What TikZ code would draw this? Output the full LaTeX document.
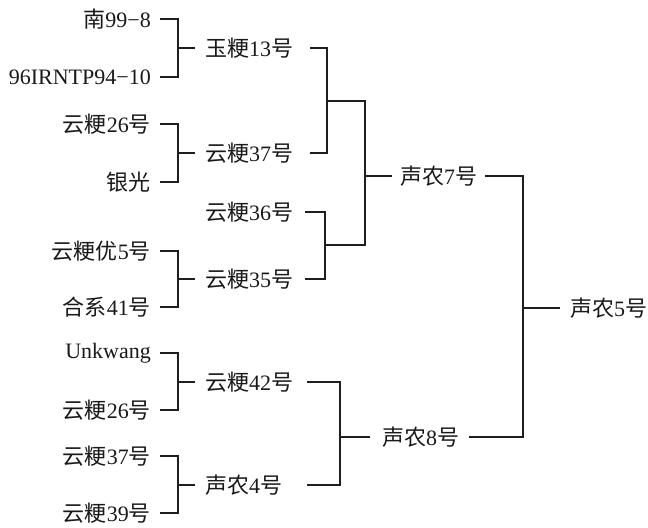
\documentclass[tikz,border=0pt]{standalone}
\usepackage{fontspec}
\setmainfont{Liberation Serif}
\newfontfamily\cjk{Noto Sans CJK SC}
\newcommand{\zh}[1]{{\cjk #1}}
\begin{document}
\begin{tikzpicture}[x=1bp,y=-1bp,
  lbl/.style={inner sep=0pt, font=\fontsize{22bp}{26bp}\selectfont, text=black!90},
  leaf/.style={lbl, anchor=east},
  mid/.style={lbl, anchor=west, text width=90bp, align=left},
  top/.style={lbl, anchor=west},
  link/.style={draw=black!88, line width=2.1bp}]
\useasboundingbox (0,0) rectangle (648,528);
% leaves
\node[leaf] (l1) at (151,19) {\zh{南}99−8};
\node[leaf] (l2) at (151,77) {96IRNTP94−10};
\node[leaf] (l3) at (151,124) {\zh{云粳}26\zh{号}};
\node[leaf] (l4) at (151,182) {\zh{银光}};
\node[leaf] (l5) at (151,251) {\zh{云粳优}5\zh{号}};
\node[leaf] (l6) at (151,307) {\zh{合系}41\zh{号}};
\node[leaf] (l7) at (151,353) {Unkwang};
\node[leaf] (l8) at (151,410) {\zh{云粳}26\zh{号}};
\node[leaf] (l9) at (151,456) {\zh{云粳}37\zh{号}};
\node[leaf] (l10) at (151,513) {\zh{云粳}39\zh{号}};
% middle
\node[mid] (m1) at (205,48) {\zh{玉粳}13\zh{号}};
\node[mid] (m2) at (205,153) {\zh{云粳}37\zh{号}};
\node[mid] (m3) at (205,212) {\zh{云粳}36\zh{号}};
\node[mid] (m4) at (205,279) {\zh{云粳}35\zh{号}};
\node[mid] (m5) at (205,382) {\zh{云粳}42\zh{号}};
\node[mid] (m6) at (205,485) {\zh{声农}4\zh{号}};
\node[top] (n1) at (400,176) {\zh{声农}7\zh{号}};
\node[top] (n2) at (382,437) {\zh{声农}8\zh{号}};
\node[top] (r) at (570,308) {\zh{声农}5\zh{号}};
% junctions
\coordinate (jA) at (178,48);
\coordinate (jB) at (178,153);
\coordinate (jC) at (178,279);
\coordinate (jD) at (178,382);
\coordinate (jE) at (178,485);
\coordinate (jF) at (327,101);
\coordinate (jG) at (325,245);
\coordinate (jH) at (365,176);
\coordinate (jI) at (340,437);
\coordinate (jJ) at (523,308);
% leaf brackets
\draw[link] ([xshift=9]l1.east) -| (jA) |- ([xshift=9]l2.east);
\draw[link] (jA) -- ([xshift=-10]m1.west);
\draw[link] ([xshift=9]l3.east) -| (jB) |- ([xshift=9]l4.east);
\draw[link] (jB) -- ([xshift=-10]m2.west);
\draw[link] ([xshift=9]l5.east) -| (jC) |- ([xshift=9]l6.east);
\draw[link] (jC) -- ([xshift=-10]m4.west);
\draw[link] ([xshift=9]l7.east) -| (jD) |- ([xshift=9]l8.east);
\draw[link] (jD) -- ([xshift=-10]m5.west);
\draw[link] ([xshift=9]l9.east) -| (jE) |- ([xshift=9]l10.east);
\draw[link] (jE) -- ([xshift=-10]m6.west);
% middle brackets
\draw[link] ([xshift=15]m1.east) -| (jF) |- ([xshift=15]m2.east);
\draw[link] ([xshift=10]m3.east) -| (jG) |- ([xshift=10]m4.east);
\draw[link] (jF) -| (jH) |- (jG);
\draw[link] (jH) -- ([xshift=-8]n1.west);
\draw[link] ([xshift=12]m5.east) -| (jI) |- ([xshift=12]m6.east);
\draw[link] (jI) -- ([xshift=-12]n2.west);
% top bracket
\draw[link] ([xshift=8]n1.east) -| (jJ) |- ([xshift=10]n2.east);
\draw[link] (jJ) -- ([xshift=-10]r.west);
\end{tikzpicture}
\end{document}
